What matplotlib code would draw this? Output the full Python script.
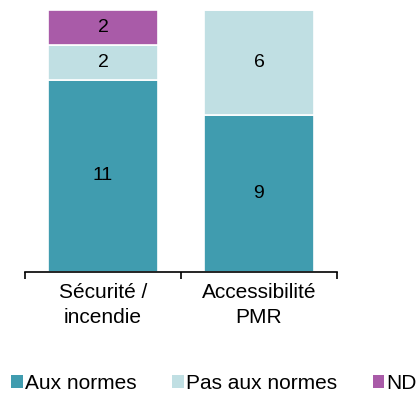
import matplotlib.pyplot as plt
from matplotlib.patches import Patch

plt.rcParams['font.family'] = ['Liberation Sans', 'DejaVu Sans']

categories = ["Sécurité /\nincendie", "Accessibilité\nPMR"]
aux_normes = [11, 9]
pas_aux_normes = [2, 6]
nd = [2, 0]

series = [
    ("Aux normes", aux_normes, "#409CAF"),
    ("Pas aux normes", pas_aux_normes, "#C0DFE3"),
    ("ND", nd, "#A95BA8"),
]

fig = plt.figure(figsize=(4.18, 3.93), dpi=100)
ax = fig.add_axes([0.06, 0.308, 0.746, 0.667])

x = list(range(len(categories)))
bottom = [0, 0]
for name, vals, color in series:
    ax.bar(x, vals, width=0.7, bottom=bottom, color=color,
           edgecolor="white", linewidth=1.2, label=name)
    for xi, v, b in zip(x, vals, bottom):
        if v > 0:
            ax.text(xi, b + v / 2, str(v), ha="center", va="center",
                    fontsize=14, color="black")
    bottom = [b + v for b, v in zip(bottom, vals)]

ax.set_xlim(-0.5, 1.5)
ax.set_ylim(0, 15)
for s in ["top", "right", "left"]:
    ax.spines[s].set_visible(False)
ax.spines["bottom"].set_linewidth(1.2)
ax.set_yticks([])

# category labels without ticks, ticks at boundaries
ax.set_xticks([-0.5, 0.5, 1.5])
ax.set_xticklabels([])
ax.tick_params(axis="x", length=5, width=1.2, direction="out")
ax.set_xticks(x, minor=True)
ax.set_xticklabels(categories, minor=True, fontsize=15, linespacing=1.4)
ax.tick_params(axis="x", which="minor", length=0, pad=8)

handles = [Patch(facecolor=c, edgecolor="none", label=n) for n, _, c in series]
fig.legend(handles=handles, loc="center left", bbox_to_anchor=(0.027, 0.025),
           ncol=3, frameon=False, fontsize=15, handlelength=0.55,
           handleheight=0.55, handletextpad=0.12, columnspacing=1.7,
           borderaxespad=0, borderpad=0)

fig.savefig("out.png", dpi=100)
